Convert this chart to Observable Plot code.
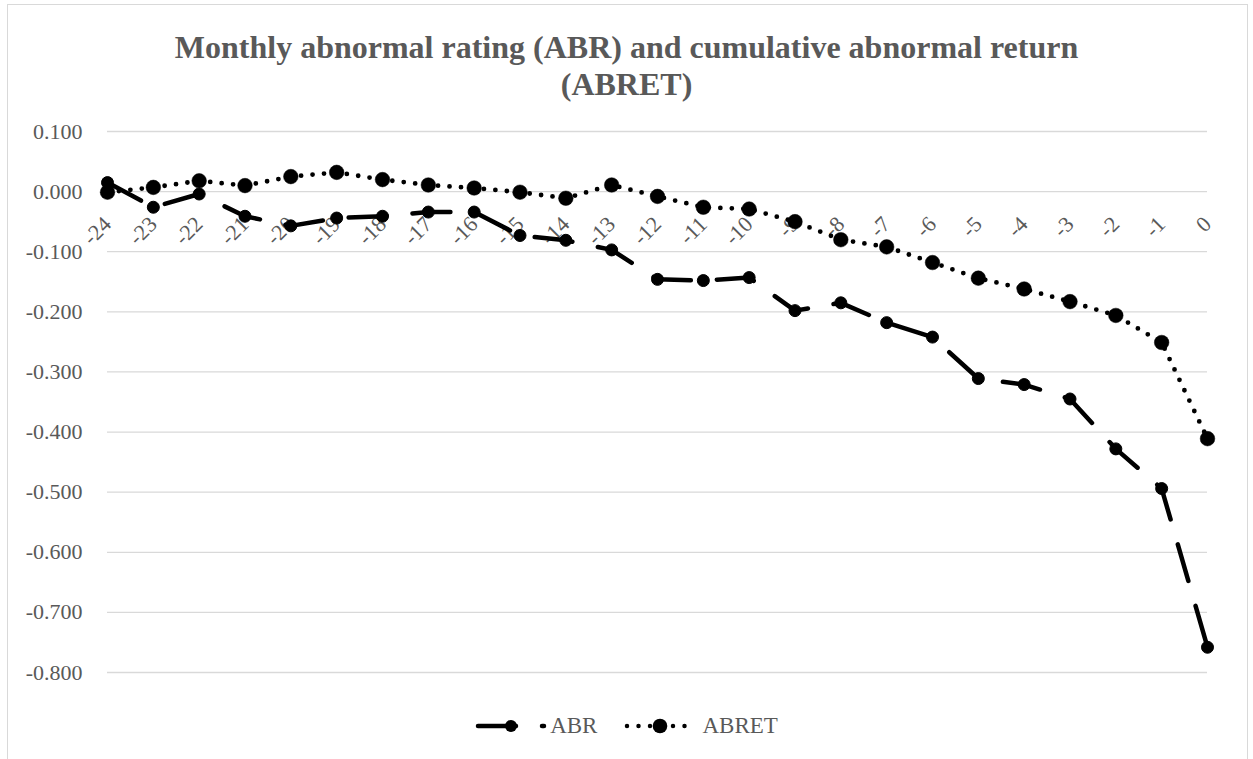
<!DOCTYPE html>
<html>
<head>
<meta charset="utf-8">
<script src="https://cdn.jsdelivr.net/npm/d3@7"></script>
<script src="https://cdn.jsdelivr.net/npm/@observablehq/plot@0.6"></script>
<style>
  html, body { margin: 0; padding: 0; background: #fff; }
  #page { position: relative; width: 1253px; height: 759px; overflow: hidden; font-family: "Liberation Serif", "Times New Roman", serif; }
  #frame { position: absolute; left: 7px; top: 4px; width: 1241px; height: 800px; border: 1px solid #d9d9d9; box-sizing: border-box; }
  #title { position: absolute; left: 0; top: 29px; width: 1253px; text-align: center; color: #595959; font-weight: bold; font-size: 32px; line-height: 37px; }
  #chart { position: absolute; left: 0; top: 100px; }
  #legend { position: absolute; left: 0; top: 713px; width: 1253px; display: flex; justify-content: center; align-items: center; color: #595959; font-size: 23px; }
  #legend .item { display: flex; align-items: center; }
</style>
</head>
<body>
<div id="page">
  <div id="frame"></div>
  <div id="title">Monthly abnormal rating (ABR) and cumulative abnormal return<br>(ABRET)</div>
  <div id="chart"></div>
  <div id="legend"></div>
</div>
<script>
const months = [-24, -23, -22, -21, -20, -19, -18, -17, -16, -15, -14, -13, -12, -11, -10, -9, -8, -7, -6, -5, -4, -3, -2, -1, 0];
const abr = [0.015, -0.026, -0.004, -0.041, -0.057, -0.044, -0.041, -0.034, -0.034, -0.073, -0.081, -0.097, -0.146, -0.148, -0.143, -0.198, -0.185, -0.218, -0.242, -0.311, -0.321, -0.345, -0.428, -0.494, -0.758];
const abret = [-0.001, 0.007, 0.018, 0.010, 0.025, 0.032, 0.020, 0.011, 0.006, -0.001, -0.011, 0.011, -0.008, -0.026, -0.029, -0.050, -0.080, -0.092, -0.118, -0.144, -0.162, -0.183, -0.206, -0.251, -0.411];
const yTicks = [0.1, 0, -0.1, -0.2, -0.3, -0.4, -0.5, -0.6, -0.7, -0.8];
const seriesNames = ["ABR", "ABRET"];

const abrData = months.map((m, i) => ({month: m, value: abr[i]}));
const abretData = months.map((m, i) => ({month: m, value: abret[i]}));

const textColor = "#595959";
const font = '"Liberation Serif", "Times New Roman", serif';

const plot = Plot.plot({
  width: 1253,
  height: 620,
  marginLeft: 107,
  marginRight: 46,
  marginTop: 31,
  marginBottom: 48,
  style: {fontFamily: font, fontSize: "22px", color: textColor, background: "transparent"},
  x: {type: "linear", domain: [-24, 0], axis: null},
  y: {domain: [-0.8, 0.1], axis: null},
  marks: [
    Plot.ruleY(yTicks, {stroke: "#d9d9d9", strokeWidth: 1.3}),
    Plot.axisY({ticks: yTicks, tickSize: 0, tickPadding: 25, tickFormat: d => d.toFixed(3), fontSize: 22, fill: textColor, label: null}),
    Plot.text(months, {x: d => d, y: () => 0, text: d => String(d), rotate: -45, textAnchor: "end", dy: 29, dx: 0, fontSize: 22, fill: textColor}),
    Plot.line(abrData, {x: "month", y: "value", stroke: "#000", strokeWidth: 4.5, strokeDasharray: "38,26", strokeLinecap: "round", strokeLinejoin: "round"}),
    Plot.dot(abrData, {x: "month", y: "value", r: 6, fill: "#000", stroke: "#000", strokeWidth: 1}),
    Plot.line(abretData, {x: "month", y: "value", stroke: "#000", strokeWidth: 4.8, strokeDasharray: "0,11.5", strokeLinecap: "round", strokeLinejoin: "round"}),
    Plot.dot(abretData, {x: "month", y: "value", r: 7.3, fill: "#000", stroke: "#000", strokeWidth: 0.5})
  ]
});
document.getElementById("chart").appendChild(plot);

// Legend
const legend = d3.select("#legend");
const styles = [
  {name: seriesNames[0], dash: "38,26", r: 6, textGap: 3, after: 27},
  {name: seriesNames[1], dash: "0,11.5", r: 7.3, textGap: 6, after: 0}
];
styles.forEach(s => {
  const item = legend.append("div").attr("class", "item").style("margin-right", s.after + "px");
  const svg = item.append("svg").attr("width", 72).attr("height", 24);
  svg.append("line").attr("x1", 3).attr("x2", 69).attr("y1", 12).attr("y2", 12)
    .attr("stroke", "#000").attr("stroke-width", 4.5).attr("stroke-dasharray", s.dash).attr("stroke-linecap", "round");
  svg.append("circle").attr("cx", 36).attr("cy", 12).attr("r", s.r).attr("fill", "#000");
  item.append("span").style("margin-left", s.textGap + "px").text(s.name);
});
</script>
</body>
</html>
